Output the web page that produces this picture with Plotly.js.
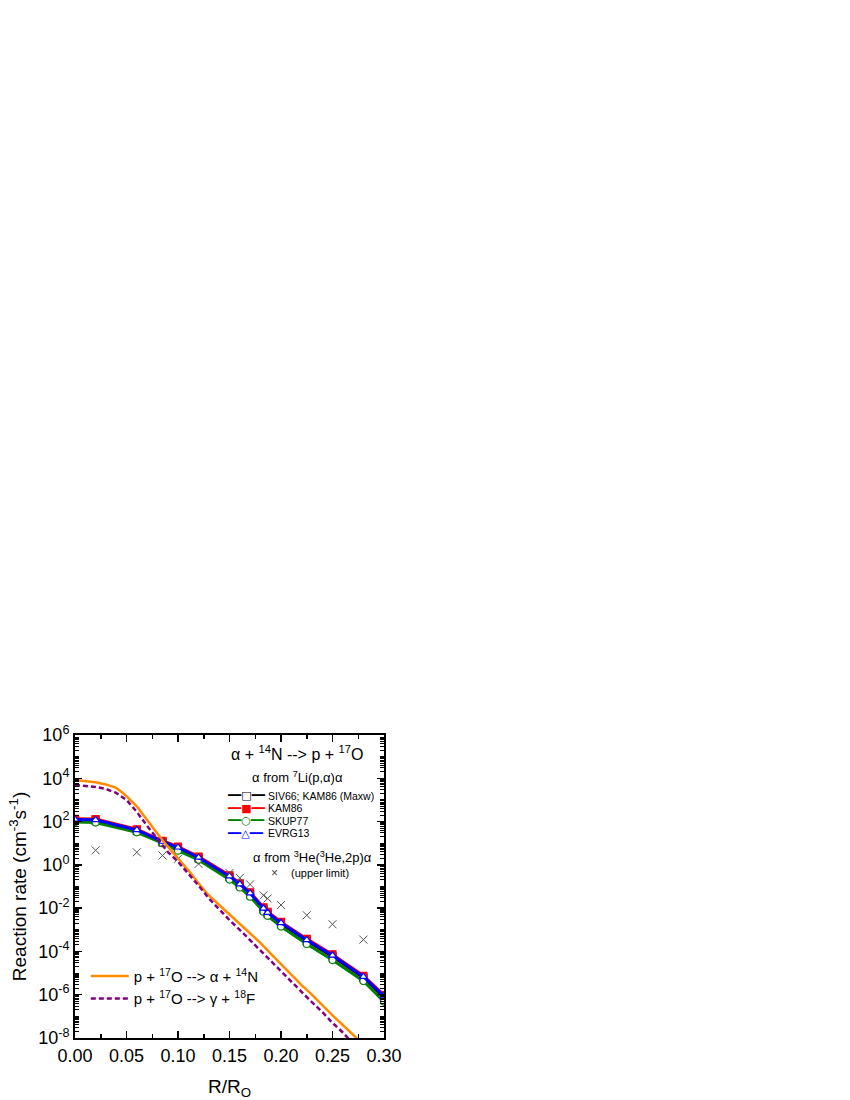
<!DOCTYPE html>
<html>
<head>
<meta charset="utf-8">
<script src="https://cdn.plot.ly/plotly-3.0.1.min.js"></script>
<style>
body { margin: 0; background: #fff; }
#chart { width: 850px; height: 1100px; }
</style>
</head>
<body>
<div id="chart"></div>
<script>
// alpha + 14N --> p + 17O rates, alpha from 7Li(p,alpha)alpha
const radius = [0, 0.02, 0.06, 0.085, 0.10, 0.12, 0.15, 0.16, 0.17, 0.183, 0.187, 0.20, 0.225, 0.25, 0.28, 0.30];
const rateSIV66  = [115, 110, 37, 11, 5.9, 2.0, 0.27, 0.12, 0.044, 0.0088, 0.0056, 0.0019, 3.1e-4, 5.9e-5, 6.1e-6, 7.8e-7];
const rateKAM86  = [135, 130, 44, 13, 7.0, 2.4, 0.33, 0.14, 0.054, 0.011, 0.0068, 0.0023, 3.8e-4, 7.3e-5, 7.5e-6, 9.6e-7];
const rateSKUP77 = [95, 90, 32, 10, 4.5, 1.7, 0.21, 0.09, 0.034, 0.0069, 0.0044, 0.0014, 2.2e-4, 4.0e-5, 4.3e-6, 4.8e-7];
const rateEVRG13 = [125, 120, 41, 12, 6.5, 2.2, 0.30, 0.13, 0.049, 0.0098, 0.0062, 0.0021, 3.4e-4, 6.6e-5, 6.8e-6, 8.7e-7];

// alpha from 3He(3He,2p)alpha, upper limit
const radiusUpper = [0.02, 0.06, 0.085, 0.10, 0.12, 0.15, 0.16, 0.17, 0.183, 0.187, 0.20, 0.225, 0.25, 0.28];
const rateUpper   = [4.7, 3.8, 2.7, 1.9, 1.1, 0.42, 0.25, 0.125, 0.039, 0.028, 0.014, 0.0047, 0.0018, 3.5e-4];

// p + 17O reactions
const radiusP17O = [0, 0.01, 0.02, 0.03, 0.04, 0.045, 0.05, 0.06, 0.07, 0.08, 0.09, 0.10, 0.11, 0.12, 0.128,
                    0.14, 0.15, 0.16, 0.17, 0.18, 0.19, 0.20, 0.21, 0.22, 0.23, 0.24, 0.25, 0.26, 0.27, 0.28];
const rateAlphaN = [8300, 7600, 6600, 5200, 3600, 2400, 1500, 500, 112, 28, 7.1, 2.0, 0.56, 0.14, 0.048,
                    0.014, 0.005, 1.8e-3, 6.3e-4, 2.5e-4, 7.9e-5, 2.5e-5, 7.9e-6, 2.8e-6, 1.0e-6, 3.2e-7, 1.1e-7, 4.0e-8, 1.4e-8, 5e-9];
const radiusGamma = [0, 0.01, 0.02, 0.03, 0.04, 0.05, 0.06, 0.07, 0.08, 0.09, 0.10, 0.11, 0.12, 0.13,
                     0.14, 0.15, 0.16, 0.17, 0.18, 0.19, 0.20, 0.21, 0.22, 0.23, 0.24, 0.25, 0.26, 0.27];
const rateGammaF = [4900, 4600, 4000, 3200, 2100, 1000, 280, 63, 16, 4.0, 1.4, 0.4, 0.11, 0.028,
                    8.9e-3, 2.8e-3, 1.0e-3, 3.3e-4, 1.1e-4, 3.5e-5, 1.26e-5, 4.0e-6, 1.4e-6, 4.5e-7, 1.6e-7, 5.0e-8, 1.8e-8, 5.6e-9];

const yTickVals = [1e-8, 1e-6, 1e-4, 1e-2, 1, 1e2, 1e4, 1e6];
const yTickText = ['10<sup>-8</sup>', '10<sup>-6</sup>', '10<sup>-4</sup>', '10<sup>-2</sup>',
                   '10<sup>0</sup>', '10<sup>2</sup>', '10<sup>4</sup>', '10<sup>6</sup>'];

const seriesNames   = ['SIV66; KAM86 (Maxw)', 'KAM86', 'SKUP77', 'EVRG13'];
const seriesRates   = [rateSIV66, rateKAM86, rateSKUP77, rateEVRG13];
const seriesColors  = ['#000000', '#ff0000', '#008000', '#0000ff'];
const seriesSymbols = ['square', 'square', 'circle', 'triangle-up'];
const seriesFills   = ['#ffffff', '#ff0000', '#ffffff', '#ffffff'];
const legendGlyphs  = ['━━□━━', '━━■━━', '━━○━━', '━━△━━'];

const font = 'Liberation Sans, Arial, sans-serif';

let traces = [];
// drawing order: black under red, green, blue on top
[0, 1, 2, 3].forEach(i => {
    traces.push({
        x: radius, y: seriesRates[i], mode: 'lines+markers', name: seriesNames[i],
        line: { color: seriesColors[i], width: 3 },
        marker: { symbol: seriesSymbols[i], size: 7, color: seriesFills[i], line: { color: seriesColors[i], width: 1.2 } },
        showlegend: false
    });
});

traces.push({
    x: radiusUpper, y: rateUpper, mode: 'markers', name: '(upper limit)',
    marker: { symbol: 'x-thin', size: 8, color: '#555', line: { color: '#555', width: 1 } },
    showlegend: false
});
traces.push({
    x: radiusP17O, y: rateAlphaN, mode: 'lines', name: 'p + <sup>17</sup>O --&gt; α + <sup>14</sup>N',
    line: { color: '#ff8c00', width: 2.5 }, legend: 'legend2'
});
traces.push({
    x: radiusGamma, y: rateGammaF, mode: 'lines', name: 'p + <sup>17</sup>O --&gt; γ + <sup>18</sup>F',
    line: { color: '#800080', width: 2.5, dash: '5px,3px' }, legend: 'legend2'
});

let annotations = [
    { text: 'α + <sup>14</sup>N --&gt; p + <sup>17</sup>O', x: 0.72, y: 0.941, xanchor: 'center', font: { size: 16 } },
    { text: 'α from <sup>7</sup>Li(p,α)α', x: 0.72, y: 0.861, xanchor: 'center', font: { size: 13 } },
    { text: 'α from <sup>3</sup>He(<sup>3</sup>He,2p)α', x: 0.767, y: 0.597, xanchor: 'center', font: { size: 13 } },
    { text: '×', x: 0.647, y: 0.543, xanchor: 'center', font: { size: 12, color: '#444' } },
    { text: '(upper limit)', x: 0.692, y: 0.543, xanchor: 'left', font: { size: 11 } }
];
seriesNames.forEach((name, i) => {
    const rowY = 0.799 - i * 0.0413;
    annotations.push({ text: legendGlyphs[i], x: 0.485, y: rowY, xanchor: 'left',
        font: { size: 11, family: 'DejaVu Sans', color: seriesColors[i] } });
    annotations.push({ text: name, x: 0.618, y: rowY, xanchor: 'left', font: { size: 10.5 } });
});
annotations = annotations.map(a => Object.assign({ xref: 'paper', yref: 'paper', yanchor: 'middle', showarrow: false }, a));
annotations.forEach(a => { a.font = Object.assign({ family: font, color: '#000' }, a.font); });

let layout = {
    width: 850, height: 1100,
    margin: { l: 75, r: 466, t: 735, b: 62 },
    paper_bgcolor: '#fff', plot_bgcolor: '#fff',
    font: { family: font, color: '#000' },
    xaxis: {
        range: [0, 0.3], dtick: 0.05, tickformat: '.2f',
        ticks: 'inside', ticklen: 7, tickwidth: 1.5, tickcolor: '#000',
        minor: { dtick: 0.025, ticks: 'inside', ticklen: 4, tickwidth: 1.5, tickcolor: '#000', showgrid: false },
        showline: true, linewidth: 2, linecolor: '#000', mirror: 'allticks',
        showgrid: false, zeroline: false,
        tickfont: { size: 18 },
        title: { text: 'R/R<sub>O</sub>', font: { size: 19 } }
    },
    yaxis: {
        type: 'log', range: [-8, 6], tickmode: 'array', tickvals: yTickVals, ticktext: yTickText,
        ticks: 'inside', ticklen: 7, tickwidth: 1.5, tickcolor: '#000',
        minor: { dtick: 'D1', ticks: 'inside', ticklen: 4, tickwidth: 1, tickcolor: '#000', showgrid: false },
        showline: true, linewidth: 2, linecolor: '#000', mirror: 'allticks',
        showgrid: false, zeroline: false,
        tickfont: { size: 18 },
        title: { text: 'Reaction rate (cm<sup>-3</sup>s<sup>-1</sup>)', font: { size: 19 } }
    },
    legend2: {
        x: 0.035, y: 0.258, xanchor: 'left', yanchor: 'top', itemwidth: 38,
        bgcolor: 'rgba(0,0,0,0)', font: { size: 15 }, tracegroupgap: 0
    },
    annotations: annotations
};

Plotly.newPlot(document.querySelector('#chart'), traces, layout, { staticPlot: true });
</script>
</body>
</html>
